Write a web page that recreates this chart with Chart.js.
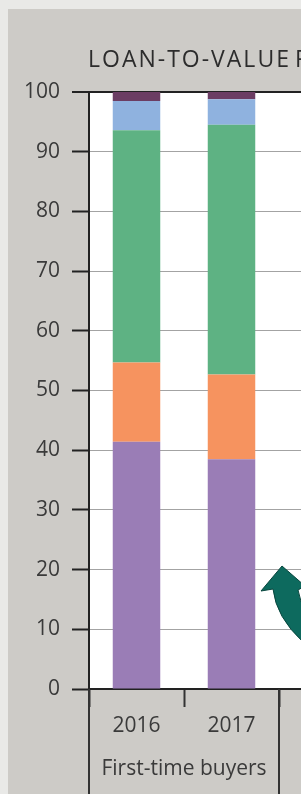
<!DOCTYPE html>
<html lang="en">
<head>
<meta charset="UTF-8">
<title>Loan-to-value ratio</title>
<script src="https://cdn.jsdelivr.net/npm/chart.js"></script>
<style>
  html, body { margin: 0; padding: 0; overflow: hidden; background: #e9e9e7; }
  #panel { position: absolute; left: 8px; top: 9px; width: 400px; height: 800px; background: #cdcbc7; }
  #chart { position: absolute; left: 0; top: 0; }
</style>
</head>
<body>
<div id="panel"></div>
<canvas id="chart" width="374" height="794"></canvas>
<script>
// categories (a blank slot keeps room for the next group, cut off at the edge)
const years = ['2016', '2017'];
const groupLabel = 'First-time buyers';
const titleText = 'LOAN-TO-VALUE RATIO';
const yTicks = [0, 10, 20, 30, 40, 50, 60, 70, 80, 90, 100];

// shares (%) per LTV band, bottom to top
const band1 = [41.4, 38.5];
const band2 = [13.3, 14.2];
const band3 = [38.9, 41.8];
const band4 = [4.9, 4.3];
const band5 = [1.5, 1.2];

const bandNames = ['Band 1', 'Band 2', 'Band 3', 'Band 4', 'Band 5'];
const bandColors = ['#9a7db6', '#f6935f', '#5eb283', '#8fb2df', '#6b3d63'];

const font = "'Open Sans', 'Noto Sans', sans-serif";

const chartBg = {
    id: 'chartBg',
    beforeDraw(chart) {
        const { ctx, chartArea: a } = chart;
        ctx.save();
        ctx.fillStyle = '#ffffff';
        ctx.fillRect(a.left, a.top, a.right - a.left, a.bottom - a.top);
        ctx.restore();
    }
};

// title, group separators, group label and the curved arrow
const extras = {
    id: 'extras',
    afterDraw(chart) {
        const { ctx, chartArea: a } = chart;
        const x = chart.scales.x;
        const step = x.getPixelForValue(1) - x.getPixelForValue(0);
        const gLeft = a.left;
        const gRight = x.getPixelForValue(years.length - 1) + step / 2;
        ctx.save();

        ctx.fillStyle = '#2c2c2c';
        ctx.font = '23px ' + font;
        ctx.letterSpacing = '2px';
        ctx.wordSpacing = '-4px';
        ctx.textAlign = 'left';
        ctx.textBaseline = 'middle';
        ctx.fillText(titleText, a.left - 1, a.top - 32);
        ctx.letterSpacing = '0px';
        ctx.wordSpacing = '0px';

        ctx.strokeStyle = '#333';
        ctx.lineWidth = 2;
        [gLeft, gRight].forEach(px => {
            ctx.beginPath();
            ctx.moveTo(px, a.bottom);
            ctx.lineTo(px, chart.height);
            ctx.stroke();
        });
        ctx.fillStyle = '#3a3a3a';
        ctx.font = '21px ' + font;
        ctx.textAlign = 'center';
        ctx.fillText(groupLabel, (gLeft + gRight) / 2, a.bottom + 80);

        // arrow
        const ox = a.left, oy = a.top;
        ctx.beginPath();
        ctx.moveTo(ox + 193, oy + 474);
        ctx.lineTo(ox + 216, oy + 494);
        ctx.lineTo(ox + 209, oy + 498);
        ctx.quadraticCurveTo(ox + 213, oy + 520, ox + 234, oy + 550);
        ctx.lineTo(ox + 214, oy + 550);
        ctx.quadraticCurveTo(ox + 187, oy + 525, ox + 184, oy + 497);
        ctx.lineTo(ox + 172, oy + 499);
        ctx.closePath();
        ctx.fillStyle = '#0d6a5e';
        ctx.fill();
        ctx.strokeStyle = '#08463e';
        ctx.lineWidth = 1;
        ctx.stroke();
        ctx.restore();
    }
};

const data = [band1, band2, band3, band4, band5];

new Chart(document.getElementById('chart'), {
    type: 'bar',
    data: {
        labels: [...years, ''],
        datasets: data.map((vals, i) => ({
            label: bandNames[i],
            data: vals,
            backgroundColor: bandColors[i],
            borderWidth: 0,
            barPercentage: 0.5,
            categoryPercentage: 1
        }))
    },
    options: {
        responsive: false,
        animation: false,
        layout: { padding: { left: 26, right: 0, top: 92, bottom: 0 } },
        plugins: {
            legend: { display: false },
            tooltip: { enabled: false },
            title: { display: false }
        },
        scales: {
            x: {
                stacked: true,
                grid: { drawOnChartArea: false, tickLength: 18, tickColor: '#333', tickWidth: 2, offset: true },
                border: { color: '#222', width: 2 },
                ticks: { color: '#3a3a3a', padding: 6, font: { family: font, size: 21 } },
                afterFit(s) { s.height = 105; }
            },
            y: {
                stacked: true,
                min: 0,
                max: 100,
                afterBuildTicks(s) { s.ticks = yTicks.map(v => ({ value: v })); },
                grid: {
                    color: c => c.tick && c.tick.value === 100 ? '#222' : '#a3a3a3',
                    lineWidth: c => c.tick && c.tick.value === 100 ? 2 : 1,
                    tickColor: '#222',
                    tickWidth: 2,
                    tickLength: 17
                },
                border: { color: '#222', width: 2 },
                ticks: { color: '#3a3a3a', padding: 12, font: { family: font, size: 21 } },
                afterFit(s) { s.width = 63; }
            }
        }
    },
    plugins: [chartBg, extras]
});
</script>
</body>
</html>
